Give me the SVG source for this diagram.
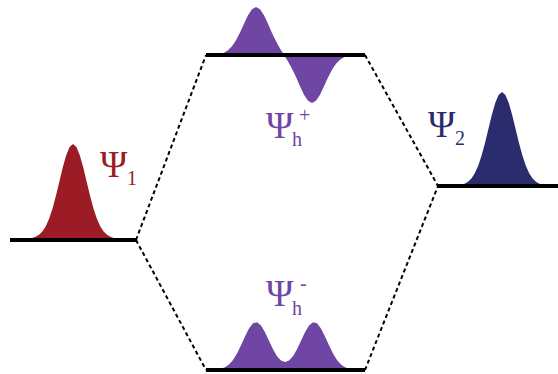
<svg xmlns="http://www.w3.org/2000/svg" width="558" height="374" viewBox="0 0 558 374">
<style>
.level{stroke:#000;stroke-width:4;fill:none}
.conn{stroke:#000;stroke-width:2;stroke-dasharray:4 3;fill:none}
.lbl{font-family:"Liberation Serif","Times New Roman",serif;font-size:37px}
.sub{font-family:"Liberation Serif","Times New Roman",serif;font-size:20px}
.red{fill:#9B1C24}
.navy{fill:#2B2C6E}
.purple{fill:#6F46A4}
</style>
<defs>
<path id="gauss" d="M-35,0 L-32.5,-0.51 L-30,-1.11 L-27.5,-2.28 L-25,-4.39 L-22.5,-7.96 L-20,-13.53 L-17.5,-21.63 L-15,-32.47 L-12.5,-45.78 L-10,-60.65 L-7.5,-75.48 L-5,-88.25 L-2.5,-96.92 L0,-100 L2.5,-96.92 L5,-88.25 L7.5,-75.48 L10,-60.65 L12.5,-45.78 L15,-32.47 L17.5,-21.63 L20,-13.53 L22.5,-7.96 L25,-4.39 L27.5,-2.28 L30,-1.11 L32.5,-0.51 L35,0 Z"/>
</defs>
<g id="connectors">
<line class="conn" x1="136" y1="240" x2="206" y2="55"/>
<line class="conn" x1="136" y1="240" x2="206" y2="370"/>
<line class="conn" x1="365" y1="55" x2="438" y2="186"/>
<line class="conn" x1="365" y1="370" x2="438" y2="186"/>
</g>
<g id="psi1">
<use href="#gauss" class="red" transform="translate(73,239) scale(1.36,0.95)"/>
<line class="level" x1="10" y1="240" x2="136" y2="240"/>
<text class="lbl red" x="100" y="177">Ψ</text>
<text class="sub red" x="127" y="185">1</text>
</g>
<g id="psi2">
<use href="#gauss" class="navy" transform="translate(502,186) scale(1.36,0.94)"/>
<line class="level" x1="438" y1="186" x2="558" y2="186"/>
<text class="lbl navy" x="428" y="137">Ψ</text>
<text class="sub navy" x="455" y="145">2</text>
</g>
<g id="psih-plus">
<path class="purple" d="M212,55 L216,54.58 L220,53.96 L224,52.68 L228,50.28 L232,46.27 L236,40.3 L240,32.49 L244,23.65 L248,15.28 L252,9.22 L256,7 L260,9.23 L264,15.33 L268,23.81 L272,32.92 L276,41.34 L280,48.59 L284,55 L288,61.41 L292,68.66 L296,77.08 L300,86.19 L304,94.67 L308,100.77 L312,103 L316,100.78 L320,94.72 L324,86.35 L328,77.51 L332,69.7 L336,63.73 L340,59.72 L344,57.32 L348,56.04 L352,55.42 L356,55 Z"/>
<line class="level" x1="206" y1="55" x2="365" y2="55"/>
<text class="lbl purple" x="266" y="138">Ψ</text>
<text class="sub purple" x="292" y="146">h</text>
<text class="sub purple" x="299" y="122">+</text>
</g>
<g id="psih-minus">
<path class="purple" d="M209,370 L213,369.8 L217,369.47 L221,368.72 L225,367.21 L229,364.45 L233,359.97 L237,353.5 L241,345.33 L245,336.45 L249,328.48 L253,323.25 L257,322.14 L261,325.41 L265,332.19 L269,340.77 L273,349.25 L277,356.15 L281,360.53 L285,362.02 L289,360.53 L293,356.15 L297,349.25 L301,340.77 L305,332.19 L309,325.41 L313,322.14 L317,323.25 L321,328.48 L325,336.45 L329,345.33 L333,353.5 L337,359.97 L341,364.45 L345,367.21 L349,368.72 L353,369.47 L357,369.8 L361,370 Z"/>
<line class="level" x1="206" y1="370" x2="365" y2="370"/>
<text class="lbl purple" x="266" y="306">Ψ</text>
<text class="sub purple" x="292" y="315">h</text>
<text class="sub purple" x="300" y="290">-</text>
</g>
</svg>
